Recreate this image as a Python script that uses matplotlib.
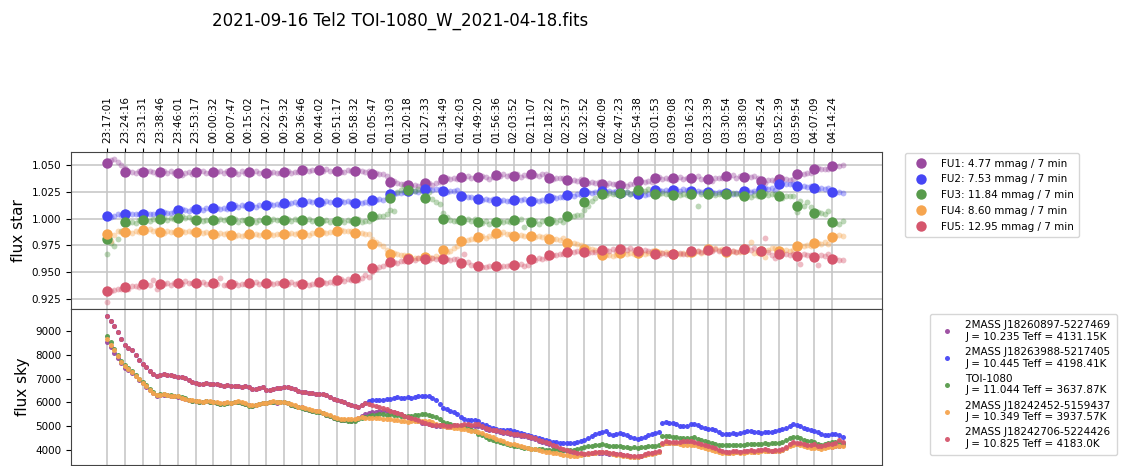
import numpy as np
import matplotlib
matplotlib.use("Agg")
import matplotlib.pyplot as plt

plt.rcParams['font.family'] = ['DejaVu Sans']

title = "2021-09-16 Tel2 TOI-1080_W_2021-04-18.fits"

time_labels = [
    "23:17:01", "23:24:16", "23:31:31", "23:38:46", "23:46:01", "23:53:17",
    "00:00:32", "00:07:47", "00:15:02", "00:22:17", "00:29:32", "00:36:46",
    "00:44:02", "00:51:17", "00:58:32", "01:05:47", "01:13:03", "01:20:18",
    "01:27:33", "01:34:49", "01:42:03", "01:49:20", "01:56:36", "02:03:52",
    "02:11:07", "02:18:22", "02:25:37", "02:32:52", "02:40:09", "02:47:23",
    "02:54:38", "03:01:53", "03:09:08", "03:16:23", "03:23:39", "03:30:54",
    "03:38:09", "03:45:24", "03:52:39", "03:59:54", "04:07:09", "04:14:24",
]

star_labels = [
    "FU1: 4.77 mmag / 7 min",
    "FU2: 7.53 mmag / 7 min",
    "FU3: 11.84 mmag / 7 min",
    "FU4: 8.60 mmag / 7 min",
    "FU5: 12.95 mmag / 7 min",
]

sky_labels = [
    "2MASS J18260897-5227469\nJ = 10.235 Teff = 4131.15K",
    "2MASS J18263988-5217405\nJ = 10.445 Teff = 4198.41K",
    "TOI-1080\nJ = 11.044 Teff = 3637.87K",
    "2MASS J18242452-5159437\nJ = 10.349 Teff = 3937.57K",
    "2MASS J18242706-5224426\nJ = 10.825 Teff = 4183.0K",
]

colors = ['#9a4a9f', '#4646f5', '#589b4c', '#f6a54f', '#d5566d']

# 7-minute binned relative flux (one value per time label)
fu1_bin = [1.0516, 1.0438, 1.0434, 1.0434, 1.0422, 1.0434, 1.0438, 1.0431, 1.0434, 1.0425,
           1.0438, 1.0453, 1.0450, 1.0441, 1.0441, 1.0419, 1.0340, 1.0310, 1.0328, 1.0369,
           1.0387, 1.0384, 1.0406, 1.0400, 1.0413, 1.0378, 1.0359, 1.0337, 1.0325, 1.0316,
           1.0347, 1.0375, 1.0375, 1.0381, 1.0369, 1.0394, 1.0388, 1.0350, 1.0370, 1.0419,
           1.0463, 1.0488]
fu2_bin = [1.0022, 1.0047, 1.0041, 1.0056, 1.0078, 1.0091, 1.0094, 1.0116, 1.0119, 1.0131,
           1.0144, 1.0156, 1.0153, 1.0156, 1.0147, 1.0175, 1.0234, 1.0256, 1.0272, 1.0259,
           1.0206, 1.0178, 1.0166, 1.0172, 1.0166, 1.0194, 1.0219, 1.0244, 1.0253, 1.0237,
           1.0228, 1.0263, 1.0269, 1.0253, 1.0244, 1.0237, 1.0259, 1.0278, 1.0322, 1.0300,
           1.0284, 1.0244]
fu3_bin = [0.9809, 0.9963, 0.9984, 0.9997, 1.0009, 0.9984, 0.9988, 0.9984, 0.9981, 0.9988,
           0.9988, 0.9984, 0.9975, 0.9978, 0.9981, 1.0019, 1.0194, 1.0263, 1.0194, 1.0000,
           0.9988, 0.9966, 0.9972, 0.9984, 0.9972, 0.9975, 1.0019, 1.0159, 1.0228, 1.0237,
           1.0263, 1.0231, 1.0222, 1.0228, 1.0228, 1.0228, 1.0213, 1.0228, 1.0206, 1.0119,
           1.0050, 0.9972]
fu4_bin = [0.9853, 0.9875, 0.9891, 0.9875, 0.9878, 0.9872, 0.9859, 0.9844, 0.9853, 0.9853,
           0.9859, 0.9859, 0.9872, 0.9884, 0.9863, 0.9760, 0.9669, 0.9631, 0.9637, 0.9703,
           0.9794, 0.9831, 0.9863, 0.9841, 0.9834, 0.9809, 0.9769, 0.9716, 0.9659, 0.9675,
           0.9675, 0.9681, 0.9672, 0.9684, 0.9713, 0.9691, 0.9713, 0.9697, 0.9700, 0.9744,
           0.9769, 0.9828]
fu5_bin = [0.9319, 0.9359, 0.9384, 0.9391, 0.9400, 0.9394, 0.9394, 0.9388, 0.9394, 0.9394,
           0.9394, 0.9388, 0.9403, 0.9425, 0.9444, 0.9541, 0.9591, 0.9622, 0.9622, 0.9619,
           0.9581, 0.9556, 0.9556, 0.9566, 0.9619, 0.9659, 0.9688, 0.9688, 0.9703, 0.9713,
           0.9700, 0.9669, 0.9672, 0.9694, 0.9703, 0.9694, 0.9713, 0.9700, 0.9669, 0.9650,
           0.9637, 0.9625]

# individual exposures, relative flux
fu1 = [1.0525, 1.0548, 1.0556, 1.0530, 1.0498, 1.0470, 1.0445, 1.0432, 1.0428, 1.0440,
       1.0426, 1.0442, 1.0448, 1.0431, 1.0420, 1.0436, 1.0445, 1.0422, 1.0440, 1.0429,
       1.0418, 1.0410, 1.0430, 1.0438, 1.0415, 1.0428, 1.0440, 1.0445, 1.0430, 1.0425,
       1.0446, 1.0432, 1.0440, 1.0428, 1.0443, 1.0425, 1.0438, 1.0420, 1.0442, 1.0430,
       1.0440, 1.0428, 1.0446, 1.0425, 1.0432, 1.0410, 1.0422, 1.0435, 1.0430, 1.0428,
       1.0440, 1.0448, 1.0430, 1.0436, 1.0437, 1.0450, 1.0462, 1.0445, 1.0455, 1.0452,
       1.0455, 1.0442, 1.0460, 1.0448, 1.0445, 1.0448, 1.0436, 1.0432, 1.0450, 1.0440,
       1.0430, 1.0452, 1.0445, 1.0438, 1.0440, 1.0440, 1.0430, 1.0418, 1.0412, 1.0395,
       1.0370, 1.0350, 1.0330, 1.0325, 1.0325, 1.0315, 1.0300, 1.0318, 1.0305, 1.0312,
       1.0320, 1.0335, 1.0318, 1.0330, 1.0337, 1.0355, 1.0375, 1.0365, 1.0380, 1.0370,
       1.0392, 1.0380, 1.0398, 1.0375, 1.0390, 1.0378, 1.0395, 1.0388, 1.0372, 1.0387,
       1.0410, 1.0400, 1.0418, 1.0395, 1.0407, 1.0395, 1.0412, 1.0392, 1.0405, 1.0396,
       1.0420, 1.0408, 1.0402, 1.0418, 1.0417, 1.0385, 1.0370, 1.0382, 1.0375, 1.0378,
       1.0365, 1.0352, 1.0360, 1.0350, 1.0368, 1.0340, 1.0330, 1.0345, 1.0332, 1.0338,
       1.0328, 1.0318, 1.0330, 1.0322, 1.0327, 1.0310, 1.0325, 1.0305, 1.0320, 1.0320,
       1.0340, 1.0352, 1.0345, 1.0355, 1.0343, 1.0370, 1.0385, 1.0368, 1.0380, 1.0372,
       1.0380, 1.0365, 1.0385, 1.0370, 1.0375, 1.0390, 1.0375, 1.0395, 1.0372, 1.0373,
       1.0362, 1.0350, 1.0375, 1.0380, 1.0378, 1.0400, 1.0388, 1.0405, 1.0382, 1.0395,
       1.0380, 1.0398, 1.0385, 1.0395, 1.0382, 1.0345, 1.0332, 1.0358, 1.0360, 1.0355,
       1.0365, 1.0380, 1.0372, 1.0360, 1.0373, 1.0405, 1.0420, 1.0415, 1.0430, 1.0425,
       1.0455, 1.0470, 1.0460, 1.0465, 1.0465, 1.0485, 1.0492, 1.0495, 1.0498]
fu2 = [1.0020, 1.0015, 1.0025, 1.0040, 1.0030, 1.0062, 1.0048, 1.0040, 1.0042, 1.0045,
       1.0035, 1.0048, 1.0038, 1.0045, 1.0040, 1.0050, 1.0062, 1.0055, 1.0048, 1.0063,
       1.0070, 1.0085, 1.0078, 1.0072, 1.0085, 1.0088, 1.0095, 1.0082, 1.0098, 1.0090,
       1.0090, 1.0102, 1.0088, 1.0098, 1.0092, 1.0110, 1.0122, 1.0108, 1.0125, 1.0115,
       1.0115, 1.0128, 1.0112, 1.0122, 1.0118, 1.0125, 1.0140, 1.0128, 1.0135, 1.0127,
       1.0150, 1.0138, 1.0145, 1.0152, 1.0135, 1.0160, 1.0148, 1.0162, 1.0150, 1.0160,
       1.0155, 1.0145, 1.0160, 1.0150, 1.0155, 1.0150, 1.0162, 1.0152, 1.0160, 1.0156,
       1.0140, 1.0150, 1.0145, 1.0152, 1.0148, 1.0160, 1.0172, 1.0180, 1.0175, 1.0188,
       1.0215, 1.0230, 1.0240, 1.0238, 1.0247, 1.0250, 1.0262, 1.0255, 1.0248, 1.0265,
       1.0268, 1.0280, 1.0265, 1.0275, 1.0272, 1.0265, 1.0250, 1.0262, 1.0255, 1.0263,
       1.0225, 1.0210, 1.0200, 1.0205, 1.0190, 1.0182, 1.0175, 1.0185, 1.0170, 1.0178,
       1.0170, 1.0160, 1.0172, 1.0162, 1.0166, 1.0165, 1.0178, 1.0170, 1.0180, 1.0167,
       1.0160, 1.0170, 1.0162, 1.0175, 1.0163, 1.0185, 1.0198, 1.0190, 1.0200, 1.0197,
       1.0210, 1.0225, 1.0215, 1.0228, 1.0217, 1.0238, 1.0250, 1.0242, 1.0248, 1.0242,
       1.0255, 1.0245, 1.0260, 1.0250, 1.0255, 1.0240, 1.0228, 1.0245, 1.0232, 1.0240,
       1.0225, 1.0235, 1.0222, 1.0232, 1.0226, 1.0255, 1.0268, 1.0260, 1.0270, 1.0262,
       1.0265, 1.0275, 1.0262, 1.0278, 1.0265, 1.0258, 1.0245, 1.0255, 1.0250, 1.0257,
       1.0240, 1.0250, 1.0238, 1.0248, 1.0244, 1.0235, 1.0245, 1.0230, 1.0240, 1.0235,
       1.0255, 1.0265, 1.0252, 1.0262, 1.0261, 1.0270, 1.0285, 1.0275, 1.0290, 1.0270,
       1.0315, 1.0330, 1.0320, 1.0325, 1.0320, 1.0305, 1.0295, 1.0302, 1.0298, 1.0300,
       1.0290, 1.0280, 1.0288, 1.0278, 1.0284, 1.0250, 1.0240, 1.0245, 1.0242]
fu3 = [0.9665, 0.9770, 0.9740, 0.9810, 0.9880, 0.9940, 0.9960, 0.9972, 0.9958, 0.9985,
       0.9975, 0.9990, 0.9980, 0.9995, 0.9982, 0.9992, 1.0005, 0.9990, 1.0002, 0.9996,
       1.0010, 1.0020, 1.0005, 1.0015, 0.9995, 0.9980, 0.9995, 0.9975, 0.9990, 0.9982,
       0.9990, 0.9978, 0.9995, 0.9985, 0.9992, 0.9980, 0.9995, 0.9972, 0.9990, 0.9983,
       0.9975, 0.9990, 0.9970, 0.9985, 0.9985, 0.9995, 0.9980, 0.9998, 0.9982, 0.9985,
       0.9985, 0.9998, 0.9980, 0.9992, 0.9985, 0.9990, 0.9975, 0.9992, 0.9978, 0.9985,
       0.9960, 0.9975, 0.9985, 0.9970, 0.9985, 0.9975, 0.9990, 0.9968, 0.9982, 0.9975,
       0.9985, 0.9995, 0.9972, 0.9978, 0.9975, 0.9995, 1.0010, 1.0025, 1.0020, 1.0045,
       1.0080, 1.0070, 1.0250, 1.0265, 1.0305, 1.0250, 1.0270, 1.0262, 1.0275, 1.0258,
       1.0260, 1.0245, 1.0180, 1.0150, 1.0135, 1.0050, 1.0010, 0.9985, 0.9975, 0.9980,
       0.9995, 0.9980, 0.9992, 0.9978, 0.9995, 0.9970, 0.9958, 0.9975, 0.9950, 0.9977,
       0.9965, 0.9980, 0.9968, 0.9978, 0.9969, 0.9990, 0.9975, 0.9992, 0.9920, 0.9985,
       0.9965, 0.9980, 0.9950, 0.9975, 0.9990, 0.9970, 0.9985, 0.9968, 0.9982, 0.9970,
       0.9995, 1.0010, 1.0025, 1.0030, 1.0035, 1.0080, 1.0120, 1.0160, 1.0195, 1.0240,
       1.0230, 1.0220, 1.0235, 1.0225, 1.0230, 1.0240, 1.0228, 1.0245, 1.0230, 1.0242,
       1.0255, 1.0268, 1.0260, 1.0272, 1.0260, 1.0235, 1.0225, 1.0240, 1.0228, 1.0227,
       1.0215, 1.0228, 1.0220, 1.0230, 1.0217, 1.0225, 1.0235, 1.0115, 1.0230, 1.0232,
       1.0225, 1.0235, 1.0222, 1.0232, 1.0226, 1.0230, 1.0220, 1.0235, 1.0225, 1.0230,
       1.0210, 1.0222, 1.0205, 1.0218, 1.0210, 1.0225, 1.0235, 1.0220, 1.0230, 1.0230,
       1.0200, 1.0195, 1.0215, 1.0210, 1.0210, 1.0060, 1.0160, 1.0120, 1.0150, 1.0105,
       1.0030, 1.0060, 1.0050, 1.0040, 1.0070, 0.9985, 0.9960, 0.9945, 0.9975]
fu4 = [0.9830, 0.9790, 0.9850, 0.9880, 0.9870, 0.9880, 0.9870, 0.9868, 0.9885, 0.9872,
       0.9895, 0.9880, 0.9905, 0.9885, 0.9890, 0.9880, 0.9868, 0.9885, 0.9870, 0.9872,
       0.9875, 0.9885, 0.9870, 0.9882, 0.9878, 0.9870, 0.9882, 0.9865, 0.9875, 0.9868,
       0.9860, 0.9850, 0.9865, 0.9855, 0.9865, 0.9845, 0.9838, 0.9850, 0.9840, 0.9847,
       0.9855, 0.9848, 0.9860, 0.9850, 0.9852, 0.9850, 0.9858, 0.9845, 0.9858, 0.9854,
       0.9862, 0.9855, 0.9865, 0.9852, 0.9861, 0.9855, 0.9865, 0.9850, 0.9862, 0.9863,
       0.9870, 0.9878, 0.9865, 0.9875, 0.9872, 0.9885, 0.9895, 0.9880, 0.9880, 0.9880,
       0.9875, 0.9862, 0.9868, 0.9855, 0.9855, 0.9810, 0.9780, 0.9760, 0.9740, 0.9710,
       0.9690, 0.9675, 0.9665, 0.9660, 0.9655, 0.9640, 0.9625, 0.9635, 0.9628, 0.9627,
       0.9630, 0.9640, 0.9632, 0.9645, 0.9638, 0.9665, 0.9685, 0.9700, 0.9725, 0.9740,
       0.9770, 0.9790, 0.9800, 0.9805, 0.9805, 0.9825, 0.9835, 0.9822, 0.9840, 0.9833,
       0.9870, 0.9858, 0.9875, 0.9855, 0.9857, 0.9845, 0.9835, 0.9850, 0.9838, 0.9837,
       0.9840, 0.9830, 0.9838, 0.9828, 0.9834, 0.9815, 0.9805, 0.9810, 0.9800, 0.9815,
       0.9785, 0.9770, 0.9775, 0.9760, 0.9755, 0.9735, 0.9720, 0.9715, 0.9705, 0.9705,
       0.9670, 0.9655, 0.9660, 0.9650, 0.9660, 0.9672, 0.9680, 0.9670, 0.9682, 0.9671,
       0.9670, 0.9685, 0.9672, 0.9680, 0.9668, 0.9678, 0.9690, 0.9675, 0.9685, 0.9677,
       0.9665, 0.9680, 0.9668, 0.9675, 0.9672, 0.9685, 0.9678, 0.9692, 0.9680, 0.9685,
       0.9715, 0.9705, 0.9720, 0.9708, 0.9717, 0.9695, 0.9685, 0.9700, 0.9688, 0.9687,
       0.9720, 0.9705, 0.9780, 0.9680, 0.9680, 0.9700, 0.9640, 0.9705, 0.9720, 0.9720,
       0.9700, 0.9690, 0.9710, 0.9695, 0.9705, 0.9730, 0.9755, 0.9740, 0.9750, 0.9745,
       0.9760, 0.9775, 0.9765, 0.9780, 0.9765, 0.9820, 0.9835, 0.9845, 0.9838]
fu5 = [0.9220, 0.9325, 0.9330, 0.9345, 0.9340, 0.9355, 0.9340, 0.9365, 0.9372, 0.9360,
       0.9378, 0.9390, 0.9380, 0.9428, 0.9345, 0.9395, 0.9385, 0.9400, 0.9380, 0.9395,
       0.9400, 0.9392, 0.9415, 0.9398, 0.9395, 0.9400, 0.9388, 0.9405, 0.9385, 0.9392,
       0.9390, 0.9385, 0.9440, 0.9380, 0.9375, 0.9385, 0.9395, 0.9380, 0.9392, 0.9388,
       0.9398, 0.9385, 0.9405, 0.9388, 0.9394, 0.9390, 0.9400, 0.9385, 0.9398, 0.9397,
       0.9395, 0.9385, 0.9405, 0.9390, 0.9395, 0.9385, 0.9395, 0.9380, 0.9392, 0.9388,
       0.9400, 0.9410, 0.9398, 0.9408, 0.9399, 0.9420, 0.9430, 0.9418, 0.9432, 0.9425,
       0.9430, 0.9425, 0.9440, 0.9470, 0.9455, 0.9500, 0.9525, 0.9545, 0.9560, 0.9575,
       0.9580, 0.9590, 0.9585, 0.9600, 0.9600, 0.9610, 0.9625, 0.9615, 0.9630, 0.9630,
       0.9625, 0.9615, 0.9630, 0.9618, 0.9622, 0.9615, 0.9625, 0.9610, 0.9622, 0.9623,
       0.9595, 0.9665, 0.9590, 0.9570, 0.9570, 0.9565, 0.9550, 0.9545, 0.9560, 0.9560,
       0.9550, 0.9545, 0.9560, 0.9555, 0.9570, 0.9560, 0.9565, 0.9575, 0.9560, 0.9570,
       0.9600, 0.9615, 0.9630, 0.9620, 0.9630, 0.9650, 0.9660, 0.9655, 0.9665, 0.9665,
       0.9680, 0.9690, 0.9685, 0.9695, 0.9690, 0.9695, 0.9680, 0.9690, 0.9685, 0.9690,
       0.9700, 0.9710, 0.9695, 0.9712, 0.9698, 0.9710, 0.9725, 0.9705, 0.9720, 0.9705,
       0.9705, 0.9690, 0.9710, 0.9698, 0.9697, 0.9670, 0.9660, 0.9678, 0.9665, 0.9672,
       0.9680, 0.9665, 0.9675, 0.9668, 0.9672, 0.9695, 0.9688, 0.9700, 0.9690, 0.9697,
       0.9710, 0.9700, 0.9715, 0.9695, 0.9695, 0.9700, 0.9690, 0.9698, 0.9685, 0.9697,
       0.9715, 0.9730, 0.9705, 0.9720, 0.9695, 0.9700, 0.9820, 0.9690, 0.9660, 0.9630,
       0.9680, 0.9665, 0.9672, 0.9660, 0.9668, 0.9640, 0.9575, 0.9670, 0.9655, 0.9660,
       0.9640, 0.9570, 0.9660, 0.9650, 0.9665, 0.9620, 0.9635, 0.9615, 0.9610]

# sky background flux (counts)
sky1 = [8540, 8320, 8080, 7870, 7640, 7460, 7360, 7240, 7090, 6940,
        6800, 6660, 6510, 6380, 6280, 6300, 6330, 6300, 6280, 6250,
        6240, 6190, 6150, 6100, 6070, 6050, 6030, 6020, 6050, 6030,
        6010, 5980, 5950, 5960, 5980, 5970, 6010, 6020, 5970, 5930,
        5880, 5860, 5880, 5920, 5960, 5960, 6000, 6020, 5990, 6000,
        6015, 5960, 5910, 5850, 5800, 5800, 5740, 5700, 5660, 5630,
        5620, 5550, 5490, 5430, 5370, 5300, 5280, 5260, 5250, 5240,
        5260, 5350, 5450, 5520, 5560, 5600, 5620, 5640, 5650, 5640,
        5640, 5620, 5560, 5500, 5440, 5380, 5320, 5260, 5210, 5160,
        5130, 5080, 5040, 5020, 5010, 5010, 4990, 4980, 5000, 5010,
        4990, 5020, 5040, 5020, 5030, 5030, 4970, 4900, 4860, 4830,
        4800, 4770, 4740, 4720, 4690, 4660, 4640, 4610, 4580, 4550,
        4520, 4460, 4400, 4350, 4310, 4270, 4200, 4130, 4070, 4020,
        3970, 3930, 3890, 3860, 3850, 3840, 3860, 3870, 3880, 3900,
        3900, 3880, 3860, 3850, 3840, 3840, 3800, 3770, 3750, 3740,
        3740, 3760, 3800, 3840, 3870, 3900, 3930, 4270, 4320, 4310,
        4310, 4300, 4290, 4330, 4360, 4350, 4310, 4260, 4220, 4190,
        4160, 4110, 4040, 3970, 3930, 3920, 3900, 3930, 3950, 3920,
        3930, 3960, 3980, 3950, 3990, 4000, 4020, 3980, 3960, 3970,
        3970, 4020, 4090, 4220, 4290, 4280, 4260, 4220, 4190, 4180,
        4200, 4160, 4140, 4170, 4200, 4150, 4180, 4200, 4220]
sky2 = [9615, 9390, 9200, 8950, 8640, 8420, 8280, 8200, 8000, 7790,
        7620, 7480, 7330, 7180, 7110, 7150, 7190, 7140, 7160, 7120,
        7080, 7050, 7010, 6930, 6860, 6800, 6780, 6770, 6800, 6790,
        6790, 6760, 6720, 6700, 6710, 6690, 6700, 6680, 6660, 6700,
        6630, 6580, 6550, 6600, 6640, 6540, 6510, 6580, 6620, 6610,
        6630, 6650, 6600, 6560, 6500, 6440, 6420, 6400, 6380, 6370,
        6350, 6370, 6300, 6220, 6150, 6090, 6050, 6000, 5950, 5880,
        5840, 5830, 5910, 5980, 6060, 6090, 6100, 6120, 6110, 6140,
        6160, 6200, 6230, 6190, 6200, 6210, 6180, 6230, 6260, 6250,
        6250, 6270, 6200, 6100, 5950, 5780, 5720, 5660, 5600, 5500,
        5400, 5320, 5280, 5260, 5250, 5240, 5120, 5050, 4980, 4920,
        4900, 4870, 4850, 4840, 4830, 4820, 4780, 4740, 4700, 4650,
        4590, 4560, 4520, 4480, 4430, 4400, 4360, 4340, 4320, 4310,
        4300, 4300, 4320, 4350, 4400, 4430, 4500, 4600, 4680, 4730,
        4780, 4790, 4700, 4640, 4690, 4730, 4700, 4650, 4560, 4500,
        4490, 4520, 4560, 4620, 4680, 4720, 4760, 5150, 5200, 5160,
        5130, 5080, 5030, 5000, 5030, 5080, 5100, 5050, 4990, 4920,
        4880, 4880, 4850, 4780, 4700, 4680, 4700, 4720, 4700, 4710,
        4750, 4790, 4800, 4770, 4760, 4740, 4750, 4760, 4780, 4800,
        4830, 4880, 4950, 5030, 5080, 5060, 5000, 4950, 4900, 4870,
        4810, 4750, 4680, 4620, 4640, 4690, 4700, 4660, 4570]
sky3 = [8790, 8530, 8250, 8000, 7740, 7560, 7440, 7320, 7150, 7000,
        6860, 6720, 6560, 6430, 6320, 6340, 6370, 6330, 6310, 6270,
        6260, 6210, 6170, 6110, 6080, 6050, 6030, 6020, 6060, 6040,
        6020, 5990, 5950, 5950, 5980, 5960, 6010, 6020, 5970, 5940,
        5870, 5860, 5880, 5920, 5960, 5960, 6010, 6030, 6000, 6010,
        6020, 5960, 5910, 5850, 5800, 5780, 5740, 5690, 5650, 5610,
        5600, 5540, 5480, 5420, 5360, 5300, 5280, 5250, 5230, 5220,
        5230, 5300, 5360, 5380, 5420, 5460, 5480, 5500, 5510, 5490,
        5510, 5480, 5460, 5440, 5430, 5430, 5450, 5470, 5490, 5500,
        5500, 5490, 5450, 5390, 5320, 5200, 5140, 5080, 5040, 5020,
        5000, 4960, 4910, 4870, 4800, 4700, 4620, 4540, 4460, 4420,
        4400, 4350, 4290, 4250, 4220, 4200, 4160, 4130, 4110, 4090,
        4070, 4060, 4050, 4040, 4030, 4030, 4020, 4010, 4000, 4000,
        4000, 4010, 4030, 4060, 4100, 4130, 4160, 4190, 4220, 4240,
        4250, 4240, 4200, 4180, 4170, 4170, 4150, 4120, 4100, 4120,
        4110, 4130, 4150, 4170, 4190, 4200, 4230, 4600, 4610, 4580,
        4560, 4540, 4510, 4500, 4520, 4530, 4540, 4490, 4420, 4370,
        4340, 4300, 4260, 4220, 4210, 4210, 4220, 4240, 4230, 4220,
        4230, 4250, 4260, 4270, 4280, 4280, 4290, 4280, 4300, 4310,
        4300, 4360, 4430, 4510, 4560, 4560, 4500, 4440, 4400, 4370,
        4350, 4280, 4220, 4260, 4320, 4350, 4360, 4340, 4320]
sky4 = [8640, 8420, 8180, 7950, 7700, 7520, 7400, 7280, 7120, 6970,
        6830, 6690, 6540, 6410, 6310, 6320, 6350, 6320, 6290, 6260,
        6250, 6200, 6160, 6110, 6090, 6070, 6050, 6040, 6080, 6060,
        6040, 6010, 5980, 5990, 6010, 5990, 6040, 6050, 6000, 5960,
        5900, 5890, 5910, 5950, 5990, 5980, 6030, 6050, 6020, 6030,
        6030, 5980, 5930, 5880, 5830, 5810, 5770, 5720, 5680, 5650,
        5640, 5580, 5520, 5460, 5400, 5350, 5330, 5310, 5300, 5290,
        5300, 5340, 5380, 5360, 5370, 5370, 5360, 5340, 5320, 5310,
        5300, 5280, 5250, 5230, 5210, 5200, 5210, 5220, 5230, 5240,
        5230, 5210, 5170, 5120, 5070, 5020, 4990, 4960, 4940, 4930,
        4910, 4880, 4850, 4820, 4790, 4770, 4720, 4660, 4600, 4540,
        4490, 4430, 4370, 4320, 4280, 4250, 4210, 4170, 4130, 4100,
        4070, 4040, 4000, 3970, 3950, 3930, 3900, 3870, 3840, 3810,
        3790, 3770, 3760, 3780, 3800, 3830, 3860, 3880, 3900, 3920,
        3930, 3910, 3880, 3850, 3820, 3790, 3770, 3750, 3730, 3720,
        3720, 3750, 3790, 3830, 3860, 3890, 3920, 4250, 4300, 4290,
        4310, 4290, 4260, 4240, 4220, 4210, 4220, 4180, 4130, 4090,
        4070, 4030, 3980, 3930, 3900, 3890, 3880, 3900, 3910, 3900,
        3900, 3920, 3940, 3930, 3950, 3970, 3980, 3970, 3960, 3970,
        3970, 4020, 4100, 4180, 4240, 4250, 4210, 4170, 4130, 4110,
        4110, 4080, 4060, 4100, 4130, 4140, 4170, 4190, 4200]
sky5 = [9615, 9390, 9200, 8950, 8640, 8420, 8280, 8200, 8000, 7790,
        7620, 7480, 7330, 7180, 7110, 7150, 7190, 7140, 7160, 7120,
        7080, 7050, 7010, 6930, 6860, 6800, 6780, 6770, 6800, 6790,
        6790, 6760, 6720, 6700, 6710, 6690, 6700, 6680, 6660, 6700,
        6630, 6580, 6550, 6600, 6640, 6540, 6510, 6580, 6620, 6610,
        6630, 6650, 6600, 6560, 6500, 6440, 6420, 6400, 6380, 6370,
        6350, 6370, 6300, 6220, 6150, 6090, 6050, 6000, 5950, 5880,
        5840, 5820, 5900, 5960, 5920, 5890, 5850, 5800, 5780, 5720,
        5650, 5600, 5560, 5500, 5450, 5400, 5350, 5300, 5260, 5200,
        5150, 5100, 5060, 5050, 5040, 5050, 5030, 5010, 5040, 5060,
        5050, 5080, 5100, 5070, 5090, 5090, 5020, 4950, 4900, 4870,
        4840, 4800, 4780, 4760, 4720, 4700, 4680, 4650, 4620, 4590,
        4560, 4500, 4440, 4400, 4350, 4300, 4230, 4160, 4100, 4050,
        4000, 3960, 3920, 3880, 3870, 3860, 3880, 3900, 3920, 3940,
        3930, 3910, 3880, 3870, 3860, 3860, 3820, 3790, 3770, 3760,
        3760, 3780, 3830, 3870, 3900, 3930, 3960, 4320, 4370, 4360,
        4350, 4340, 4330, 4380, 4410, 4390, 4350, 4300, 4260, 4230,
        4200, 4150, 4080, 4000, 3960, 3950, 3930, 3960, 3980, 3950,
        3960, 3990, 4010, 3980, 4020, 4030, 4050, 4010, 3990, 4000,
        4000, 4050, 4120, 4250, 4330, 4320, 4300, 4260, 4230, 4220,
        4250, 4200, 4180, 4220, 4260, 4250, 4320, 4420, 4360]

star_bins = [fu1_bin, fu2_bin, fu3_bin, fu4_bin, fu5_bin]
star_points = [fu1, fu2, fu3, fu4, fu5]
sky_points = [sky1, sky2, sky3, sky4, sky5]

# five exposures per 7-minute bin
step = 1.2
bin_width = 6.0
bin_pos = np.arange(len(time_labels)) * bin_width

fig = plt.figure(figsize=(11.24, 4.66), dpi=100)
ax1 = fig.add_axes([0.0632, 0.3369, 0.7215, 0.3369])
ax2 = fig.add_axes([0.0632, 0.0021, 0.7215, 0.3348], sharex=ax1)

for pts, bins, col, lab in zip(star_points, star_bins, colors, star_labels):
    xp = np.arange(len(pts)) * step
    ax1.plot(xp, pts, 'o', color=col, ms=4.2, alpha=0.4, mew=0, zorder=3)
    ax1.plot(bin_pos[:len(bins)], bins, 'o', color=col, ms=7.5, mew=0,
             zorder=4, label=lab)

for pts, col, lab in zip(sky_points, colors, sky_labels):
    xp = np.arange(len(pts)) * step
    ax2.plot(xp, pts, 'o', color=col, ms=3.6, mew=0, alpha=0.95,
             zorder=3, label=lab)

ax1.set_xticks(bin_pos)
ax1.set_xticklabels(time_labels, rotation=90)
ax1.xaxis.tick_top()
ax1.tick_params(axis='x', labelsize=7.5, length=3)
ax1.tick_params(axis='y', labelsize=7.5)
ax1.set_xlim(-12.3, 263)
ax1.set_ylim(0.9154, 1.0622)
ax1.set_yticks([0.925, 0.950, 0.975, 1.000, 1.025, 1.050])
ax1.set_yticklabels([f"{v:.3f}" for v in ax1.get_yticks()])
ax1.grid(True, color='#c4c4c4', lw=1.1, zorder=0)
ax1.set_axisbelow(True)
ax1.set_ylabel("flux star", fontsize=11)

ax2.tick_params(axis='x', which='both', bottom=False, top=False,
                labelbottom=False, labeltop=False)
ax2.tick_params(axis='y', labelsize=7.5)
ax2.set_ylim(3385, 9908)
ax2.set_yticks([4000, 5000, 6000, 7000, 8000, 9000])
ax2.grid(True, axis='x', color='#c4c4c4', lw=1.1, zorder=0)
ax2.set_axisbelow(True)
ax2.set_ylabel("flux sky", fontsize=11)

for ax in (ax1, ax2):
    for sp in ax.spines.values():
        sp.set_color('#444444')

ax1.legend(loc='upper left', bbox_to_anchor=(1.028, 0.994), borderaxespad=0,
           fontsize=7.5, handletextpad=0.9, borderpad=0.55, labelspacing=0.55,
           framealpha=0.8)
ax2.legend(loc='upper left', bbox_to_anchor=(1.059, 0.968), borderaxespad=0,
           fontsize=7.5, handletextpad=0.8, borderpad=0.6, markerscale=1.0,
           labelspacing=0.5, framealpha=0.8)

fig.text(0.356, 0.955, title, ha='center', va='center', fontsize=12)

fig.savefig("out.png", dpi=100)
